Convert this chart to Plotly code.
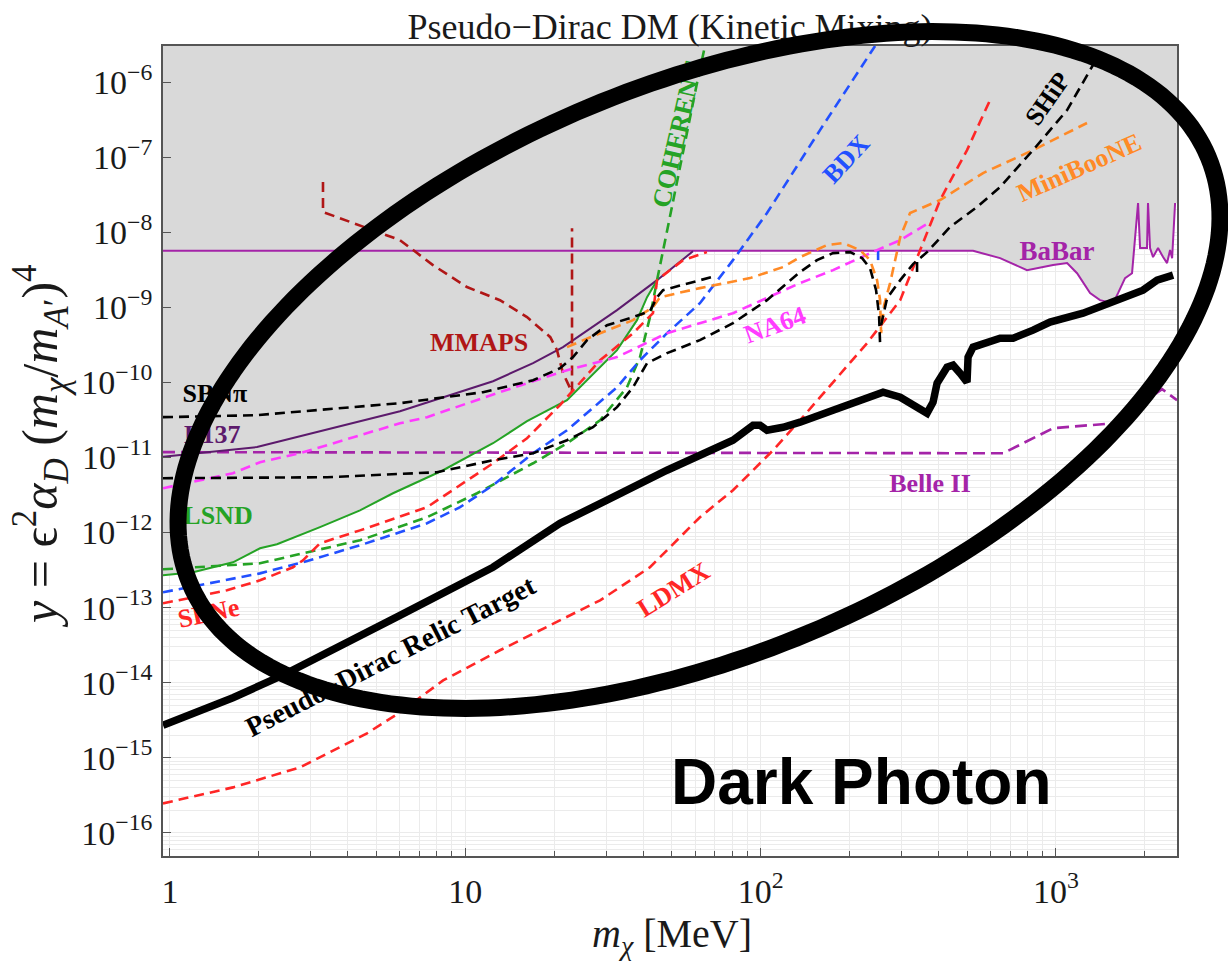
import math
import plotly.graph_objects as go

# ---------------------------------------------------------------------------
# Data: m_chi [MeV] vs y = eps^2 alpha_D (m_chi/m_A')^4
# ---------------------------------------------------------------------------
relic_x = [0.947, 1.634, 2.414, 3.565, 6.01, 12.41, 20.93, 30.19, 48.2, 80.6, 94.3,
           99.5, 105.1, 119.1, 136, 175.9, 259.8, 297, 338.6, 366.0, 383.6, 395.8,
           427.8, 448.3, 473.5, 500, 504, 524.1, 647, 715.9, 836.6, 955, 1235,
           1610, 1972, 2200, 2493]
relic_y = [2.70e-15, 6.3e-15, 1.26e-14, 2.70e-14, 7.9e-14, 3.45e-13, 1.33e-12,
           2.70e-12, 6.77e-12, 1.70e-11, 2.70e-11, 2.70e-11, 2.31e-11, 2.53e-11,
           2.96e-11, 4.27e-11, 7.43e-11, 6.37e-11, 4.54e-11, 3.90e-11, 5.46e-11,
           9.8e-11, 1.60e-10, 1.70e-10, 1.33e-10, 1.01e-10, 2.18e-10, 2.96e-10,
           3.90e-10, 3.90e-10, 4.98e-10, 6.37e-10, 8.39e-10, 1.25e-9, 1.70e-9,
           2.31e-9, 2.70e-9]

babar_x = [0.947, 524, 647, 798, 978, 1091, 1179, 1305, 1410, 1561, 1623, 1714,
           1810, 1897, 1927, 2034, 2050, 2083, 2132, 2217, 2306, 2378, 2435, 2474,
           2532]
babar_y = [5.69e-9, 5.69e-9, 4.54e-9, 3.14e-9, 3.67e-9, 3.90e-9, 2.86e-9, 1.55e-9,
           1.25e-9, 1.14e-9, 1.55e-9, 2.46e-9, 2.86e-9, 2.46e-8, 6.18e-9, 6.18e-9,
           2.46e-8, 6.18e-9, 4.69e-9, 6.18e-9, 4.69e-9, 3.90e-9, 5.81e-9, 4.54e-9,
           2.46e-8]

belle2_x = [0.947, 662, 978, 1561, 2288, 2570]
belle2_y = [1.18e-11, 1.14e-11, 2.46e-11, 2.86e-11, 8.15e-11, 5.81e-11]

e137_x = [0.947, 1.971, 6.01, 12.41, 16.96, 21.42, 32.64, 44.6, 59.0]
e137_y = [1.02e-11, 1.38e-11, 4.14e-11, 1.04e-10, 1.81e-10, 2.96e-10, 9.2e-10,
          2.31e-9, 5.6e-9]

lsnd_x = [0.947, 1.197, 1.634, 2.018, 2.303, 3.221, 4.4, 5.69, 8.41, 12.41, 16.18,
          22.1, 32.64, 38.14, 41.25, 44.6]
lsnd_y = [2.70e-13, 2.96e-13, 4.02e-13, 6.18e-13, 6.98e-13, 1.18e-12, 1.98e-12,
          3.34e-12, 6.77e-12, 1.55e-11, 3.05e-11, 5.81e-11, 2.70e-10, 6.77e-10,
          1.37e-9, 2.31e-9]

sbn_pi_x = [0.947, 1.971, 6.01, 11.48, 16.96, 20.93, 23.16, 25.83, 30.19, 36.98,
            42.2, 44.6, 46.72, 57.7, 70.1]
sbn_pi_y = [3.45e-11, 3.67e-11, 5.30e-11, 7.43e-11, 1.07e-10, 1.55e-10, 2.18e-10,
            3.67e-10, 5.81e-10, 7.43e-10, 8.93e-10, 1.37e-9, 1.70e-9, 2.11e-9,
            2.61e-9]

ship_x = [0.947, 3.401, 8.02, 12.41, 16.96, 22.1, 27.06, 32.64, 36.98, 41.25, 48.2,
          62.3, 80.6, 105.1, 136, 155.2, 175.9, 201, 220.6, 234.7, 246.0, 251.8,
          253.8, None, 255.8, 268.1, 297, 328.2, 366.0, 438, 540.6, 647, 836.6,
          1091, 1378, None, 338.6, 338.6]
ship_y = [5.30e-12, 5.46e-12, 6.37e-12, 9.2e-12, 1.14e-11, 1.70e-11, 2.53e-11,
          4.69e-11, 8.65e-11, 1.81e-10, 2.46e-10, 3.67e-10, 6.18e-10, 1.25e-9,
          2.96e-9, 4.27e-9, 5.30e-9, 5.46e-9, 4.54e-9, 3.34e-9, 1.70e-9, 7.89e-10,
          3.34e-10, None, 5.81e-10, 1.33e-9, 2.31e-9, 3.78e-9, 5.46e-9, 1.18e-8,
          2.18e-8, 4.02e-8, 1.25e-7, 4.27e-7, 2.11e-6, None, 4.02e-9, 2.46e-9]

na64_x = [0.947, 1.634, 2.018, 2.755, 3.401, 6.01, 7.42, 13.1, 22.1, 32.64, 48.2,
          80.6, 136, 175.9, 247.9, 297, 374.7]
na64_y = [3.90e-12, 6.18e-12, 8.65e-12, 1.14e-11, 1.46e-11, 2.86e-11, 3.45e-11,
          7.43e-11, 1.46e-10, 2.18e-10, 4.54e-10, 8.39e-10, 2.11e-9, 3.14e-9,
          5.81e-9, 7.89e-9, 1.37e-8]

mmaps_x = [3.297, 3.297, 6.01, 7.77, 10.13, 13.1, 16.18, 19.4, 20.44, 21.42, 22.98,
           22.98]
mmaps_y = [4.69e-8, 1.87e-8, 7.89e-9, 3.67e-9, 1.87e-9, 1.25e-9, 7.43e-10, 4.02e-10,
           2.70e-10, 1.33e-10, 7.43e-11, 1.14e-8]

coherent_x = [0.947, 2.018, 2.821, 4.4, 7.42, 10.96, 16.96, 22.1, 28.6, 35.28,
              39.05, 42.2, 44.6, 46.72, 50.5, 56.3, 60.9, 64.8]
coherent_y = [3.24e-13, 3.90e-13, 5.30e-13, 7.89e-13, 1.60e-12, 3.34e-12, 8.39e-12,
              1.55e-11, 3.14e-11, 8.65e-11, 2.18e-10, 7.43e-10, 2.31e-9, 5.81e-9,
              2.70e-8, 2.11e-7, 9.8e-7, 3.05e-6]

bdx_x = [0.947, 2.018, 2.821, 4.4, 7.42, 9.6, 12.41, 16.96, 22.1, 32.64, 39.05,
         48.2, 62.3, 80.6, 105.1, 158.9, 244.1, None, 249.9, 249.9]
bdx_y = [1.60e-13, 2.86e-13, 4.02e-13, 6.77e-13, 1.33e-12, 2.18e-12, 4.27e-12,
         1.14e-11, 2.31e-11, 8.65e-11, 1.98e-10, 4.54e-10, 1.14e-9, 4.27e-9,
         1.81e-8, 2.31e-7, 3.05e-6, None, 5.81e-9, 4.02e-9]

sbne_x = [0.947, 1.56, 2.018, 2.61, 2.821, 3.221, 4.4, 7.42, 12.41, 16.18, 20.93,
          28.6, 36.98, 43.2, 44.6, 54.6, 65.8]
sbne_y = [1.14e-13, 1.70e-13, 2.31e-13, 3.45e-13, 4.27e-13, 7.20e-13, 1.07e-12,
          2.18e-12, 8.39e-12, 1.81e-11, 5.0e-11, 1.98e-10, 4.54e-10, 8.39e-10,
          2.31e-9, 4.27e-9, 5.46e-9]

ldmx_x = [0.947, 1.634, 2.755, 4.646, 6.01, 8.41, 13.1, 20.93, 28.6, 42.2, 62.3,
          80.6, 110.2, 136, 158.9, 229.3, 297, 338.6, 405.2, 500, 598.4]
ldmx_y = [2.46e-16, 4.02e-16, 7.43e-16, 2.11e-15, 4.02e-15, 1.07e-14, 2.70e-14,
          6.78e-14, 1.25e-13, 3.45e-13, 1.60e-12, 3.67e-12, 1.25e-11, 3.14e-11,
          6.37e-11, 3.34e-10, 1.25e-9, 4.69e-9, 2.70e-8, 1.25e-7, 5.81e-7]

miniboone_x = [22.1, 28.6, 36.98, 43.2, 45.64, 62.3, 92.1, 119.1, 136, 167.8, 190.1,
               217.2, 234.7, 247.9, 253.8, 255.8, 261.9, 274.4, 297, 320.6, 405.2,
               566.5, 836.6, 1274]
miniboone_y = [2.96e-10, 4.54e-10, 6.77e-10, 1.01e-9, 1.37e-9, 1.81e-9, 2.46e-9,
               3.45e-9, 4.69e-9, 6.77e-9, 7.20e-9, 5.81e-9, 4.27e-9, 2.31e-9,
               1.25e-9, 4.54e-10, 1.07e-9, 2.11e-9, 8.65e-9, 1.81e-8, 2.70e-8,
               6.18e-8, 1.25e-7, 2.87e-7]

x_tick_vals = [1, 10, 100, 1000]
x_tick_text = ["1", "10", "10<sup>2</sup>", "10<sup>3</sup>"]
y_exponents = list(range(-16, -5))

# ---------------------------------------------------------------------------
# Layout constants
# ---------------------------------------------------------------------------
W, H = 1228, 965
PLOT_L, PLOT_R, PLOT_T, PLOT_B = 163, 1177, 46, 856
PLOT_W, PLOT_H = PLOT_R - PLOT_L, PLOT_B - PLOT_T
X_LO, X_HI = 0.947, 2570.0
Y_LO, Y_HI = 10 ** -16.31, 10 ** -5.516

PURPLE = "#a424a8"
E137_C = "#5c1a6c"
GREEN = "#25a325"
RED = "#ff2626"
DARKRED = "#b01616"
BLUE = "#2250ff"
MAGENTA = "#ff3cff"
ORANGE = "#ff8a26"
GREY_FILL = "#d9d9d9"
GRID = "#ebebeb"
FRAME = "#555555"
SERIF = "Liberation Serif"
DASH = "10px,6px"

fig = go.Figure()

# excluded region: everything above LSND, E137 and BaBar
edge_x = lsnd_x + e137_x[-1:] + [v for v in babar_x if v > e137_x[-1]]
edge_y = lsnd_y + e137_y[-1:] + [babar_y[i] for i, v in enumerate(babar_x) if v > e137_x[-1]]
fill_x = edge_x + [X_HI * 1.2, X_HI * 1.2, X_LO / 1.2, X_LO / 1.2]
fill_y = edge_y + [edge_y[-1], Y_HI * 10, Y_HI * 10, edge_y[0]]
fig.add_trace(go.Scatter(x=fill_x, y=fill_y, mode="lines", fill="toself",
                         fillcolor=GREY_FILL, line=dict(width=0), hoverinfo="skip"))


def curve(x, y, color, width, dash=None):
    fig.add_trace(go.Scatter(x=x, y=y, mode="lines", hoverinfo="skip",
                             connectgaps=False,
                             line=dict(color=color, width=width, dash=dash)))


curve(babar_x, babar_y, PURPLE, 2)
curve(belle2_x, belle2_y, PURPLE, 2.6, "12px,6px")
curve(e137_x, e137_y, E137_C, 2)
curve(lsnd_x, lsnd_y, GREEN, 2)
curve(mmaps_x, mmaps_y, DARKRED, 2.6, DASH)
curve(coherent_x, coherent_y, GREEN, 2.6, DASH)
curve(bdx_x, bdx_y, BLUE, 2.6, DASH)
curve(sbne_x, sbne_y, RED, 2.6, DASH)
curve(ldmx_x, ldmx_y, RED, 2.6, DASH)
curve(na64_x, na64_y, MAGENTA, 2.6, DASH)
curve(miniboone_x, miniboone_y, ORANGE, 2.6, DASH)
curve(sbn_pi_x, sbn_pi_y, "black", 2.6, DASH)
curve(ship_x, ship_y, "black", 2.6, DASH)
curve(relic_x, relic_y, "black", 7.5)

# ---------------------------------------------------------------------------
# Curve labels (drawn as shape labels so the ring can sit on top of them)
# ---------------------------------------------------------------------------
labels = [
    ("SBNπ", 1.42, 7.9e-11, "black", 26, 0),
    ("E137", 1.39, 2.25e-11, E137_C, 26, 0),
    ("LSND", 1.454, 1.87e-12, GREEN, 26, 0),
    ("SBNe", 1.345, 9.2e-14, RED, 26, -12),
    ("MMAPS", 11.13, 3.78e-10, DARKRED, 26, 0),
    ("COHERENT", 51.1, 2.05e-7, GREEN, 26, -77),
    ("BDX", 191.6, 1.01e-7, BLUE, 26, -47),
    ("SHiP", 918.8, 6.37e-7, "black", 26, -55),
    ("MiniBooNE", 1188, 7.89e-8, ORANGE, 26, -24),
    ("BaBar", 1009, 6.18e-9, PURPLE, 27, 0),
    ("Belle II", 374.7, 4.98e-12, PURPLE, 26, 0),
    ("NA64", 111, 6.37e-10, MAGENTA, 26, -20),
    ("LDMX", 50.1, 1.87e-13, RED, 26, -32),
    ("Pseudo−Dirac Relic Target", 5.52, 2.45e-14, "black", 28, -27),
]

shapes = []
for text, lx, ly, col, size, ang in labels:
    shapes.append(dict(
        type="rect", xref="x", yref="y", layer="above",
        x0=lx / 1.0005, x1=lx * 1.0005, y0=ly / 1.001, y1=ly * 1.001,
        line=dict(width=0), fillcolor="rgba(0,0,0,0)",
        label=dict(text=text, textposition="middle center", textangle=ang,
                   padding=0,
                   font=dict(family=SERIF, size=size, color=col, weight="bold")),
    ))

# plot title
TITLE_Y = (PLOT_B - 23) / PLOT_H
shapes.append(dict(
    type="rect", xref="paper", yref="paper", layer="above",
    x0=0.4995, x1=0.5005, y0=TITLE_Y, y1=TITLE_Y + 0.0005,
    line=dict(width=0), fillcolor="rgba(0,0,0,0)",
    label=dict(text="Pseudo−Dirac DM (Kinetic Mixing)", textposition="middle center",
               padding=0, font=dict(family=SERIF, size=36, color="#1a1a1a")),
))


# highlight ring
def ellipse_path(cx, cy, a, b, tilt_deg, n=260):
    th = math.radians(tilt_deg)
    pts = []
    for k in range(n):
        t = 2 * math.pi * k / n
        px = cx + a * math.cos(t) * math.cos(th) - b * math.sin(t) * math.sin(th)
        py = cy - (a * math.cos(t) * math.sin(th) + b * math.sin(t) * math.cos(th))
        pts.append(f"{(px - PLOT_L) / PLOT_W:.5f},{(PLOT_B - py) / PLOT_H:.5f}")
    return "M " + " L ".join(pts) + " Z"


shapes.append(dict(type="path", xref="paper", yref="paper", layer="above",
                   path=ellipse_path(699, 370, 552, 285, 22.7),
                   line=dict(color="black", width=17), fillcolor="rgba(0,0,0,0)"))

annotations = [
    dict(text="<b>Dark Photon</b>", xref="paper", yref="paper",
         x=(861 - PLOT_L) / PLOT_W, y=(PLOT_B - 782) / PLOT_H,
         xanchor="center", yanchor="middle", showarrow=False,
         font=dict(family="Liberation Sans", size=64, color="black")),
    dict(text="<i>m</i><sub><i>χ</i></sub> [MeV]", xref="paper", yref="paper",
         x=(672 - PLOT_L) / PLOT_W, y=(PLOT_B - 936) / PLOT_H,
         xanchor="center", yanchor="middle", showarrow=False,
         font=dict(family=SERIF, size=40, color="#1a1a1a")),
    dict(text="<i>y</i> = ϵ<sup>2</sup><i>α</i><sub><i>D</i></sub> "
              "(<i>m</i><sub><i>χ</i></sub>/<i>m</i><sub><i>A</i>′</sub>)<sup>4</sup>",
         xref="paper", yref="paper",
         x=(40 - PLOT_L) / PLOT_W, y=(PLOT_B - 446) / PLOT_H,
         xanchor="center", yanchor="middle", textangle=-90, showarrow=False,
         font=dict(family=SERIF, size=50, color="#1a1a1a")),
]

minor_x = [m * 10 ** e for e in range(0, 4) for m in range(2, 10) if m * 10 ** e < X_HI]
minor_y = [m * 10.0 ** e for e in range(-17, -5) for m in range(2, 10)]
tick_font = dict(family=SERIF, size=34, color="#1a1a1a")

fig.update_layout(
    width=W, height=H, autosize=False,
    margin=dict(l=PLOT_L, r=W - PLOT_R, t=PLOT_T, b=H - PLOT_B, pad=0),
    paper_bgcolor="white", plot_bgcolor="white",
    showlegend=False,
    shapes=shapes,
    annotations=annotations,
    xaxis=dict(
        type="log", range=[math.log10(X_LO), math.log10(X_HI)],
        tickmode="array", tickvals=x_tick_vals, ticktext=x_tick_text,
        ticks="inside", ticklen=8, tickwidth=1.2, tickcolor=FRAME,
        showline=True, linecolor=FRAME, linewidth=1.5, mirror=True,
        showgrid=True, gridcolor=GRID, gridwidth=1, zeroline=False,
        tickfont=tick_font, ticklabelstandoff=4,
        minor=dict(tickmode="array", tickvals=minor_x, ticks="inside", ticklen=5,
                   tickwidth=1.2, tickcolor=FRAME, showgrid=True, gridcolor=GRID,
                   gridwidth=1),
    ),
    yaxis=dict(
        type="log", range=[math.log10(Y_LO), math.log10(Y_HI)],
        tickmode="array", tickvals=[10.0 ** e for e in y_exponents],
        ticktext=[f"10<sup>−{-e}</sup>" for e in y_exponents],
        ticks="inside", ticklen=8, tickwidth=1.2, tickcolor=FRAME,
        showline=True, linecolor=FRAME, linewidth=1.5, mirror=True,
        showgrid=True, gridcolor=GRID, gridwidth=1, zeroline=False,
        tickfont=tick_font, ticklabelstandoff=2,
        minor=dict(tickmode="array", tickvals=minor_y, ticks="", showgrid=True,
                   gridcolor=GRID, gridwidth=1),
    ),
)

fig.write_html("out.html")
